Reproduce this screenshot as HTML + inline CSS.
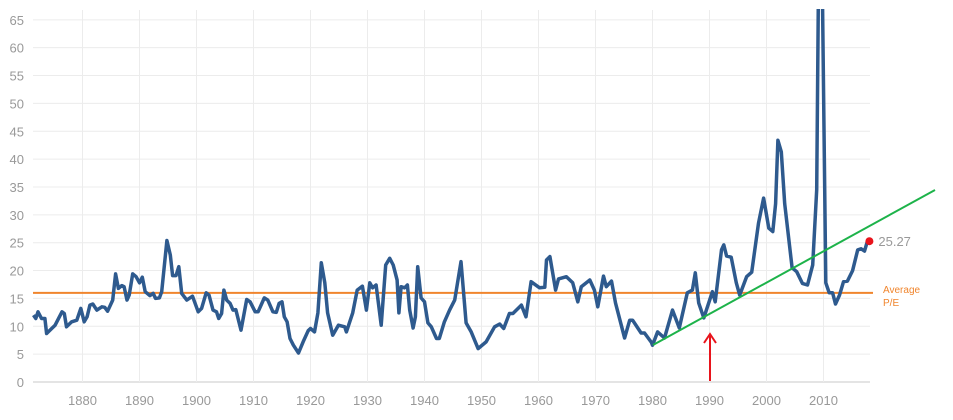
<!DOCTYPE html>
<html><head><meta charset="utf-8"><style>
html,body{margin:0;padding:0;background:#fff;}
svg{display:block;font-family:"Liberation Sans",Arial,sans-serif;}
</style></head><body>
<svg id="chart" width="953" height="420" viewBox="0 0 953 420" xmlns="http://www.w3.org/2000/svg">
<defs><clipPath id="plotclip"><rect x="30" y="9" width="850" height="380"/></clipPath></defs>
<g id="grid"></g>
<g id="yaxis"></g>
<g id="xaxis"></g>
<line id="avg" stroke="#f0852d" stroke-width="2"/>
<path id="series" fill="none" stroke="#2e5a8e" stroke-width="3.5" stroke-linejoin="round" clip-path="url(#plotclip)"/>
<line id="trend" x1="653" y1="345" x2="935" y2="190" stroke="#1db34a" stroke-width="2"/>
<g>
<line x1="710" y1="381" x2="710" y2="336" stroke="#e8141c" stroke-width="2"/>
<polyline points="704,343 710,334 716,343" fill="none" stroke="#e8141c" stroke-width="2"/>
</g>
<circle id="lastdot" r="4" fill="#e8141c"/>
<text id="lastlbl" font-size="13" fill="#999"></text>
<text x="883" y="293" font-size="10" fill="#f0852d">Average</text>
<text x="883" y="306" font-size="10" fill="#f0852d">P/E</text>
</svg>
<script>
const years=[1871.4,1871.8,1872.2,1872.8,1873.4,1873.7,1874.6,1875.2,1876.4,1876.8,1877.2,1878.1,1879,1879.7,1880.3,1880.8,1881.3,1881.8,1882.5,1883.4,1883.9,1884.4,1885.3,1885.8,1886.3,1886.9,1887.3,1887.8,1888.2,1888.8,1889.4,1890,1890.5,1891,1891.8,1892.4,1892.8,1893.5,1893.9,1894.8,1895.4,1895.8,1896.4,1896.9,1897.4,1898.3,1899.3,1900.3,1900.9,1901.7,1902.2,1902.9,1903.5,1903.9,1904.4,1904.8,1905.3,1905.9,1906.4,1906.9,1907.8,1908.8,1909.4,1910.3,1910.8,1911.9,1912.5,1913.4,1914,1914.5,1915,1915.4,1915.9,1916.4,1917,1917.9,1918.7,1919.6,1920,1920.7,1921.3,1921.9,1922.5,1923,1923.9,1924.9,1926,1926.3,1927.4,1928.2,1929.1,1929.8,1930.4,1930.9,1931.5,1932.4,1933.2,1933.9,1934.5,1935.2,1935.5,1935.9,1936.5,1937,1937.4,1938,1938.4,1938.8,1939.4,1940,1940.6,1941.2,1942.1,1942.6,1943.5,1944.4,1945.3,1946.4,1947.3,1948.2,1949.4,1950.8,1952.3,1953.2,1953.9,1954.9,1955.5,1957,1957.8,1958.7,1960.2,1961.1,1961.4,1962,1963,1963.5,1964.9,1966,1966.9,1967.5,1969,1969.8,1970.4,1971.4,1971.9,1972.8,1973.5,1975.1,1976,1976.5,1978,1978.6,1979.8,1980,1980.9,1982.1,1983.5,1984.7,1986.1,1987,1987.5,1988.1,1989,1990.5,1991,1992.1,1992.5,1993,1993.8,1994.7,1995.3,1996.5,1997.4,1998.6,1999.5,2000.4,2001.1,2001.6,2002,2002.6,2003.2,2004.5,2005.3,2006.3,2007.2,2008.1,2008.8,2009.1,2009.8,2010.4,2011,2011.6,2012.1,2012.8,2013.5,2014.2,2015.1,2016,2016.6,2017.2,2017.7];
const peValues=[12,11.4,12.6,11.4,11.4,8.7,9.6,10.2,12.6,12.3,9.9,10.8,11.1,13.2,10.8,11.7,13.8,14,12.9,13.5,13.4,12.7,14.7,19.4,16.8,17.3,17.1,14.7,15.6,19.4,18.9,17.8,18.8,16.2,15.5,15.9,15,15.1,16.2,25.4,22.8,19.1,19.1,20.7,15.9,14.7,15.4,12.6,13.2,16,15.6,12.9,12.6,11.4,12.3,16.5,14.7,14.1,12.9,13,9.3,14.8,14.4,12.6,12.6,15.1,14.7,12.6,12.5,14.1,14.4,11.7,10.8,7.8,6.6,5.2,7.2,9.2,9.6,9,12.4,21.4,17.8,12.4,8.4,10.2,9.9,9,12.4,16.5,17.2,12.9,17.8,16.9,17.4,10.2,21,22.2,21,18.3,12.4,17.1,16.9,17.4,12.9,9.7,11.7,20.7,15.1,14.4,10.6,9.9,7.8,7.8,10.8,12.9,14.7,21.6,10.6,9,6,7.2,9.9,10.4,9.6,12.3,12.3,13.8,11.7,18,16.9,17,21.9,22.5,16.5,18.5,18.9,17.8,14.4,17.1,18.3,16.5,13.5,19,17.1,18.1,14.2,7.9,11.1,11.1,8.8,8.8,7.1,6.6,9,7.9,12.9,9.7,16,16.5,19.6,14.2,11.5,16.2,14.4,23.7,24.6,22.6,22.4,17.8,15.6,18.9,19.7,28.5,33,27.6,27,32,43.4,41.3,32,20.5,19.8,17.7,17.4,21,34.5,70,70,17.8,16,16,14,15.6,18,18.1,20,23.7,23.9,23.5,25.27];
const yTicks=[0,5,10,15,20,25,30,35,40,45,50,55,60,65];
const xTicks=[1880,1890,1900,1910,1920,1930,1940,1950,1960,1970,1980,1990,2000,2010];
const averagePE=[16];
const latestLabel=["25.27"];

const X0=33,X1=870;
function xs(yr){return 82.5+(yr-1880)*5.7;}
function ys(v){return 382-v*5.572;}
const NS="http://www.w3.org/2000/svg";
function mk(tag,attrs,parent){const e=document.createElementNS(NS,tag);for(const k in attrs)e.setAttribute(k,attrs[k]);parent.appendChild(e);return e;}
const grid=document.getElementById('grid'),ya=document.getElementById('yaxis'),xa=document.getElementById('xaxis');
yTicks.forEach(t=>{
  const l=mk('line',{x1:X0,x2:X1,y1:ys(t),y2:ys(t),stroke:t===0?'#dcdcdc':'#ececec','stroke-width':t===0?1.5:1},grid);
  
  
  const tx=mk('text',{x:24,y:ys(t)+5,'text-anchor':'end','font-size':13,fill:'#999'},ya);
  
  
  tx.textContent=t;
});
xTicks.forEach(t=>{
  const l=mk('line',{x1:xs(t),x2:xs(t),y1:10,y2:382,stroke:'#ececec','stroke-width':1},grid);
  
  
  const tx=mk('text',{x:xs(t),y:405,'text-anchor':'middle','font-size':13,fill:'#999'},xa);
  
  
  tx.textContent=t;
});
const avg=document.getElementById('avg');
avg.setAttribute('x1',X0);avg.setAttribute('x2',873);
avg.setAttribute('y1',ys(averagePE[0]));avg.setAttribute('y2',ys(averagePE[0]));
let d='';
years.forEach((yr,i)=>{d+=(i?'L':'M')+xs(yr).toFixed(1)+','+ys(peValues[i]).toFixed(1);});
document.getElementById('series').setAttribute('d',d);
const n=years.length-1;
const dot=document.getElementById('lastdot');
dot.setAttribute('cx',xs(years[n])+2);dot.setAttribute('cy',ys(peValues[n]));
const lbl=document.getElementById('lastlbl');
lbl.setAttribute('x',xs(years[n])+11);lbl.setAttribute('y',ys(peValues[n])+5);
lbl.textContent=latestLabel[0];
</script>
</body></html>
